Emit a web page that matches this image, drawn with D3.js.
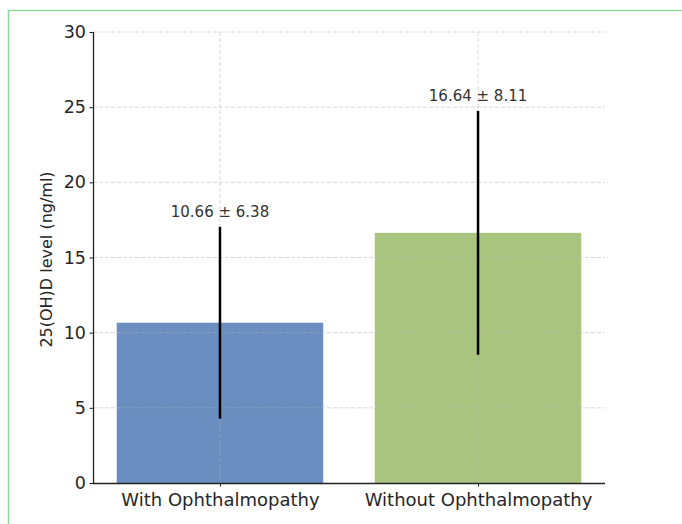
<!DOCTYPE html>
<html lang="en">
<head>
  <meta charset="UTF-8" />
  <title>25(OH)D level by group</title>
  <script src="https://d3js.org/d3.v7.min.js"></script>
  <style>
    body { margin: 0; background: #fff; font-family: "DejaVu Sans", sans-serif; }
    svg { display: block; }
    .grid line { stroke: #b0b0b0; stroke-opacity: 0.6; stroke-dasharray: 4 2; stroke-width: 0.8px; }
  </style>
</head>
<body>
  <svg id="chart" width="682" height="524"></svg>
  <script>
    // values
    const groups = ["With Ophthalmopathy", "Without Ophthalmopathy"];
    const means = [10.66, 16.64];
    const sds = [6.38, 8.11];
    const barColors = ["#6a8ec0", "#a9c47f"];
    const yTicks = [0, 5, 10, 15, 20, 25, 30];

    const svg = d3.select("#chart");
    const plotL = 93, plotR = 605, plotT = 32, plotB = 483;

    // light green frame (cropped on right and bottom)
    svg.append("rect")
      .attr("x", 8.5).attr("y", 10.5)
      .attr("width", 700).attr("height", 600)
      .attr("fill", "none")
      .attr("stroke", "#8fd6a0")
      .attr("stroke-width", 1.5);

    const x = d3.scaleLinear().domain([-0.492, 1.492]).range([plotL, plotR]);
    const y = d3.scaleLinear().domain([0, 30]).range([plotB, plotT]);
    const barW = x(0.4) - x(-0.4);

    // bars
    svg.append("g").selectAll("rect")
      .data(means)
      .join("rect")
      .attr("x", (d, i) => x(i) - barW / 2)
      .attr("y", d => y(d))
      .attr("width", barW)
      .attr("height", d => y(0) - y(d))
      .attr("fill", (d, i) => barColors[i]);

    // grid on top
    const grid = svg.append("g").attr("class", "grid");
    grid.selectAll("line.h")
      .data(yTicks.slice(1))
      .join("line")
      .attr("class", "h")
      .attr("x1", plotL).attr("x2", plotR)
      .attr("y1", d => y(d)).attr("y2", d => y(d));
    grid.selectAll("line.v")
      .data(groups)
      .join("line")
      .attr("class", "v")
      .attr("x1", (d, i) => x(i)).attr("x2", (d, i) => x(i))
      .attr("y1", plotT).attr("y2", plotB);

    // error bars
    svg.append("g").selectAll("line")
      .data(means)
      .join("line")
      .attr("x1", (d, i) => x(i)).attr("x2", (d, i) => x(i))
      .attr("y1", (d, i) => y(d - sds[i]))
      .attr("y2", (d, i) => y(d + sds[i]))
      .attr("stroke", "#000")
      .attr("stroke-width", 2.5);

    // value labels
    svg.append("g").selectAll("text")
      .data(means)
      .join("text")
      .attr("x", (d, i) => x(i))
      .attr("y", (d, i) => y(d + sds[i]) - 10)
      .attr("text-anchor", "middle")
      .attr("font-size", 15)
      .attr("fill", "#333")
      .text((d, i) => `${d.toFixed(2)} ± ${sds[i].toFixed(2)}`);

    // axes
    const yAxis = svg.append("g")
      .attr("transform", `translate(${plotL},0)`)
      .call(d3.axisLeft(y).tickValues(yTicks).tickSize(3.5).tickPadding(3.5));
    const xAxis = svg.append("g")
      .attr("transform", `translate(0,${plotB})`)
      .call(d3.axisBottom(x).tickValues([0, 1]).tickFormat(i => groups[i]).tickSize(3.5).tickPadding(7));
    yAxis.attr("font-size", 17.5);
    xAxis.attr("font-size", 18);
    [yAxis, xAxis].forEach(a => {
      a.attr("font-family", "DejaVu Sans");
      a.selectAll(".tick text").attr("fill", "#262626");
      a.select(".domain").attr("stroke", "#222").attr("stroke-width", 1.3);
      a.selectAll(".tick line").attr("stroke", "#222").attr("stroke-width", 1);
    });
    // plain spines, no end caps
    yAxis.select(".domain").attr("d", `M0.5,${plotB}V${plotT}`);
    xAxis.select(".domain").attr("d", `M${plotL},0.5H${plotR}`);

    svg.append("text")
      .attr("transform", `translate(52,${(plotT + plotB) / 2 + 2}) rotate(-90)`)
      .attr("text-anchor", "middle")
      .attr("font-size", 16)
      .attr("fill", "#262626")
      .text("25(OH)D level (ng/ml)");
  </script>
</body>
</html>
